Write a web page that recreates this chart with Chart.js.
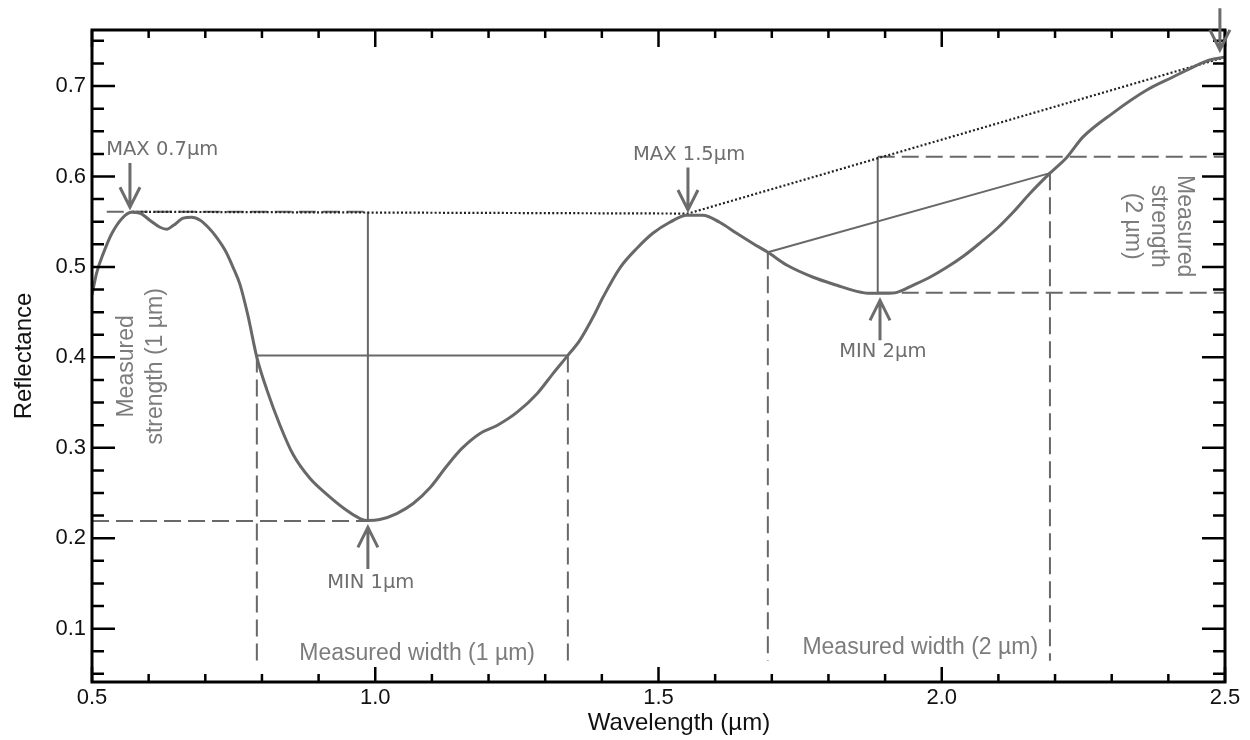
<!DOCTYPE html>
<html>
<head>
<meta charset="utf-8">
<script src="https://cdn.jsdelivr.net/npm/chart.js@4.4.1/dist/chart.umd.min.js"></script>
<style>
html, body { margin: 0; padding: 0; background: #fff; }
</style>
</head>
<body>
<canvas id="specChart" width="1250" height="740"></canvas>
<script>
// reflectance spectrum
var wavelength = [0.500, 0.508, 0.520, 0.535, 0.555, 0.570, 0.585, 0.602, 0.620, 0.632,
  0.644, 0.661, 0.676, 0.691, 0.705, 0.720, 0.735, 0.749, 0.761, 0.775,
  0.791, 0.809, 0.832, 0.855, 0.885, 0.915, 0.950, 0.973, 0.987, 1.008,
  1.038, 1.067, 1.097, 1.127, 1.153, 1.185, 1.215, 1.250, 1.286, 1.314,
  1.340, 1.361, 1.388, 1.402, 1.432, 1.462, 1.490, 1.520, 1.550, 1.578,
  1.608, 1.638, 1.666, 1.693, 1.727, 1.773, 1.815, 1.850, 1.873,
  1.900, 1.921, 1.949, 1.979, 2.009, 2.038, 2.067, 2.098, 2.126, 2.156,
  2.191, 2.221, 2.249, 2.302, 2.362, 2.408, 2.451, 2.473, 2.500];
var reflectance = [0.469, 0.493, 0.515, 0.537, 0.555, 0.5605, 0.5594, 0.5517, 0.5439, 0.5417,
  0.5461, 0.5539, 0.5550, 0.5517, 0.5439, 0.5328, 0.5184, 0.4996, 0.481, 0.447,
  0.4000, 0.3635, 0.3247, 0.2925, 0.266, 0.2483, 0.2306, 0.2218, 0.2196, 0.2207,
  0.2273, 0.2384, 0.2561, 0.2804, 0.2993, 0.3159, 0.3247, 0.3391, 0.3601, 0.3823,
  0.4022, 0.4188, 0.4487, 0.4664, 0.4990, 0.5207, 0.5372, 0.5494, 0.5572, 0.5572,
  0.5494, 0.5372, 0.5262, 0.5162, 0.5018, 0.4886, 0.4797, 0.4730, 0.4708,
  0.4708, 0.4719, 0.4797, 0.4886, 0.4996, 0.5118, 0.5262, 0.5428, 0.5605, 0.5815,
  0.6037, 0.6214, 0.6435, 0.6701, 0.6956, 0.7100, 0.7232, 0.7288, 0.7321];

// continuum (dotted)
var contX = [0.571, 1.552, 2.5];
var contY = [0.561, 0.559, 0.732];

// band 1 (1 um) construction lines
var b1StrengthX = [0.987, 0.987], b1StrengthY = [0.561, 0.219];
var b1WidthX = [0.791, 1.340],    b1WidthY = [0.402, 0.402];
var b1TopX = [0.526, 0.987],      b1TopY = [0.561, 0.561];
var b1BotX = [0.5, 0.987],        b1BotY = [0.219, 0.219];
var b1LeftX = [0.791, 0.791],     b1LeftY = [0.402, 0.0646];
var b1RightX = [1.340, 1.340],    b1RightY = [0.402, 0.0646];

// band 2 (2 um) construction lines
var b2StrengthX = [1.887, 1.887], b2StrengthY = [0.4715, 0.6217];
var b2WidthX = [1.693, 2.191],    b2WidthY = [0.5162, 0.6037];
var b2TopX = [1.887, 2.5],        b2TopY = [0.6217, 0.6217];
var b2BotX = [1.887, 2.5],        b2BotY = [0.4715, 0.4715];
var b2LeftX = [1.693, 1.693],     b2LeftY = [0.5162, 0.0646];
var b2RightX = [2.191, 2.191],    b2RightY = [0.6037, 0.0646];

// ticks
var xTickVals = [0.5, 1.0, 1.5, 2.0, 2.5];
var yTickVals = [0.1, 0.2, 0.3, 0.4, 0.5, 0.6, 0.7];

// arrows and labels (data units)
var arrows = [
  { tip: [0.567, 0.566], tail: [0.567, 0.615] },
  { tip: [1.552, 0.563], tail: [1.552, 0.610] },
  { tip: [0.987, 0.212], tail: [0.987, 0.166] },
  { tip: [1.891, 0.463], tail: [1.891, 0.419] },
  { tip: [2.491, 0.740], tail: [2.491, 0.786] }
];
var minMaxLabels = [
  { text: 'MAX 0.7µm', x: 0.624, y: 0.629 },
  { text: 'MAX 1.5µm', x: 1.554, y: 0.624 },
  { text: 'MIN 1µm',   x: 0.992, y: 0.151 },
  { text: 'MIN 2µm',   x: 1.896, y: 0.406 }
];
var widthLabels = [
  { text: 'Measured width (1 µm)', x: 1.074, y: 0.0724 },
  { text: 'Measured width (2 µm)', x: 1.962, y: 0.079 }
];

var GREY = '#686868';
var SANS = '"Liberation Sans", Arial, sans-serif';

function pts(xs, ys) {
  return xs.map(function (x, i) { return { x: x, y: ys[i] }; });
}
function seg(xs, ys, dashed) {
  return {
    data: pts(xs, ys),
    showLine: true,
    borderColor: GREY,
    borderWidth: 2,
    borderDash: dashed ? [17, 7] : [],
    pointRadius: 0
  };
}

var annotate = {
  id: 'annotate',
  afterDatasetsDraw: function (chart) {
    var ctx = chart.ctx, a = chart.chartArea;
    var xs = chart.scales.x, ys = chart.scales.y;
    var px = function (v) { return xs.getPixelForValue(v); };
    var py = function (v) { return ys.getPixelForValue(v); };
    ctx.save();

    // inward ticks on all four sides
    ctx.strokeStyle = '#000';
    ctx.lineWidth = 2.5;
    ctx.beginPath();
    for (var i = 5; i <= 25; i++) {
      var v = i / 10, X = px(v), major = (i % 5 === 0);
      var lt = major ? 17 : 8, lb = major ? 15 : 8;
      ctx.moveTo(X, a.top); ctx.lineTo(X, a.top + lt);
      ctx.moveTo(X, a.bottom); ctx.lineTo(X, a.bottom - lb);
    }
    for (var j = 2; j <= 30; j++) {
      var w = j * 0.025, Y = py(w), maj = (j % 4 === 0);
      var l = maj ? 23 : 12;
      ctx.moveTo(a.left, Y); ctx.lineTo(a.left + l, Y);
      ctx.moveTo(a.right, Y); ctx.lineTo(a.right - l, Y);
    }
    ctx.stroke();

    // frame
    ctx.lineWidth = 3;
    ctx.strokeRect(a.left, a.top, a.right - a.left, a.bottom - a.top);

    // arrows
    ctx.strokeStyle = '#6c6c6c';
    ctx.lineWidth = 3;
    arrows.forEach(function (ar) {
      var tx = px(ar.tip[0]), ty = py(ar.tip[1]);
      var sx = px(ar.tail[0]), sy = py(ar.tail[1]);
      var dir = ty > sy ? -1 : 1;
      ctx.beginPath();
      ctx.moveTo(sx, sy); ctx.lineTo(tx, ty);
      ctx.moveTo(tx - 10, ty + dir * 20); ctx.lineTo(tx, ty); ctx.lineTo(tx + 10, ty + dir * 20);
      ctx.stroke();
    });

    // MIN / MAX labels
    ctx.fillStyle = '#6e6e6e';
    ctx.textAlign = 'center';
    ctx.textBaseline = 'middle';
    ctx.font = '19.5px "DejaVu Sans", sans-serif';
    minMaxLabels.forEach(function (t) { ctx.fillText(t.text, px(t.x), py(t.y)); });

    // measured width labels
    ctx.fillStyle = '#7c7c7c';
    ctx.font = '23px ' + SANS;
    widthLabels.forEach(function (t) { ctx.fillText(t.text, px(t.x), py(t.y)); });

    // measured strength (1 um), reading upwards
    ctx.save();
    ctx.translate(px(0.586), py(0.390));
    ctx.rotate(-Math.PI / 2);
    ctx.fillText('Measured', 0, -14.5);
    ctx.fillText('strength (1 µm)', 0, 14.5);
    ctx.restore();

    // measured strength (2 um), reading downwards
    ctx.save();
    ctx.translate(px(2.383), py(0.545));
    ctx.rotate(Math.PI / 2);
    ctx.fillText('Measured', 0, -26);
    ctx.fillText('strength', 0, 0);
    ctx.fillText('(2 µm)', 0, 26);
    ctx.restore();

    // x axis title
    ctx.fillStyle = '#111';
    ctx.font = '24px ' + SANS;
    ctx.fillText('Wavelength (µm)', 679, 723);

    ctx.restore();
  }
};

var ctx = document.getElementById('specChart').getContext('2d');
new Chart(ctx, {
  type: 'scatter',
  data: {
    datasets: [
      { data: pts(wavelength, reflectance), showLine: true, borderColor: GREY, borderWidth: 3,
        pointRadius: 0, cubicInterpolationMode: 'monotone' },
      { data: pts(contX, contY), showLine: true, borderColor: '#222', borderWidth: 2.2,
        borderDash: [2, 2.2], pointRadius: 0 },
      seg(b1StrengthX, b1StrengthY, false),
      seg(b1WidthX, b1WidthY, false),
      seg(b1TopX, b1TopY, true),
      seg(b1BotX, b1BotY, true),
      seg(b1LeftX, b1LeftY, true),
      seg(b1RightX, b1RightY, true),
      seg(b2StrengthX, b2StrengthY, false),
      seg(b2WidthX, b2WidthY, false),
      seg(b2TopX, b2TopY, true),
      seg(b2BotX, b2BotY, true),
      seg(b2LeftX, b2LeftY, true),
      seg(b2RightX, b2RightY, true)
    ]
  },
  options: {
    responsive: false,
    animation: false,
    layout: { padding: { top: 30, right: 25, left: 0, bottom: 0 } },
    plugins: { legend: { display: false }, tooltip: { enabled: false } },
    scales: {
      x: {
        type: 'linear', min: 0.5, max: 2.5,
        afterBuildTicks: function (s) { s.ticks = xTickVals.map(function (v) { return { value: v }; }); },
        afterFit: function (s) { s.height = 58; },
        grid: { display: false, drawTicks: false },
        border: { display: false },
        ticks: { padding: 3, color: '#111', maxRotation: 0, autoSkip: false,
          font: { family: SANS, size: 22 },
          callback: function (v) { return v.toFixed(1); } }
      },
      y: {
        type: 'linear', min: 0.041, max: 0.762,
        afterBuildTicks: function (s) { s.ticks = yTickVals.map(function (v) { return { value: v }; }); },
        afterFit: function (s) { s.width = 92; },
        grid: { display: false, drawTicks: false },
        border: { display: false },
        ticks: { padding: 6, color: '#111', autoSkip: false,
          font: { family: SANS, size: 22 },
          callback: function (v) { return v.toFixed(1); } },
        title: { display: true, text: 'Reflectance', color: '#111',
          font: { family: SANS, size: 24 }, padding: { top: 10, bottom: 0 } }
      }
    }
  },
  plugins: [annotate]
});
</script>
</body>
</html>
